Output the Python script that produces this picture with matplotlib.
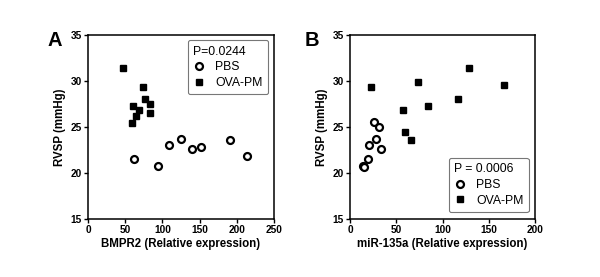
import matplotlib
matplotlib.use("Agg")
import matplotlib.pyplot as plt

plt.rcParams['font.family'] = ['Liberation Sans', 'DejaVu Sans']

# panel A: BMPR2 vs RVSP
a_pbs_x = [61.5, 93.4, 109.1, 125.2, 140.0, 152.2, 190.3, 214.1]
a_pbs_y = [21.5, 20.8, 23.1, 23.7, 22.6, 22.8, 23.6, 21.8]
a_ova_x = [46.7, 74.1, 76.7, 83.5, 83.5, 60.1, 68.7, 64.2, 58.8]
a_ova_y = [31.4, 29.4, 28.0, 27.5, 26.5, 27.3, 26.9, 26.2, 25.4]

# panel B: miR-135a vs RVSP
b_pbs_x = [25.5, 31.3, 28.1, 33.5, 20.5, 19.4, 13.7, 14.7]
b_pbs_y = [25.6, 25.0, 23.7, 22.6, 23.1, 21.5, 20.8, 20.6]
b_ova_x = [23.0, 73.4, 128.4, 166.2, 116.2, 84.2, 57.2, 59.0, 65.5]
b_ova_y = [29.4, 29.9, 31.4, 29.6, 28.0, 27.3, 26.9, 24.5, 23.6]

fig = plt.figure(figsize=(6, 2.77), dpi=100)
axA = fig.add_axes([0.1467, 0.2094, 0.31, 0.664])
axB = fig.add_axes([0.5833, 0.2094, 0.309, 0.664])


def panel(ax, px, py, ox, oy, xmax, xstep, xlabel, ptext, letter, lx, loc, anchor):
    ax.plot(px, py, 'o', ls='none', mfc='white', mec='black', mew=1.6,
            ms=5, label='PBS')
    ax.plot(ox, oy, 's', ls='none', color='black', ms=4.5, label='OVA-PM')
    ax.set_xlim(0, xmax)
    ax.set_ylim(15, 35)
    ax.set_xticks(range(0, xmax + 1, xstep))
    ax.set_yticks([15, 20, 25, 30, 35])
    for s in ax.spines.values():
        s.set_linewidth(1.1)
    ax.tick_params(direction='out', length=3, width=1, labelsize=7.3, pad=1.5)
    for t in ax.get_xticklabels() + ax.get_yticklabels():
        t.set_fontweight('bold')
    ax.set_xlabel(xlabel, fontsize=8.3, fontweight='bold', labelpad=2)
    ax.set_ylabel('RVSP (mmHg)', fontsize=8.3, fontweight='bold', labelpad=3)
    leg = ax.legend(title=ptext, loc=loc, bbox_to_anchor=anchor, fontsize=8.8,
                    title_fontsize=8.8, alignment='left', frameon=True,
                    fancybox=True, edgecolor='#555555', handlelength=1,
                    handletextpad=0.8, borderpad=0.45, labelspacing=0.3,
                    borderaxespad=0)
    leg.get_frame().set_linewidth(0.8)
    ax.text(lx, 0.973, letter, transform=ax.transAxes, fontsize=14.5,
            fontweight='bold', va='center', ha='left')


panel(axA, a_pbs_x, a_pbs_y, a_ova_x, a_ova_y, 250, 50,
      'BMPR2 (Relative expression)', 'P=0.0244', 'A', -0.22,
      'upper right', (0.968, 0.973))
panel(axB, b_pbs_x, b_pbs_y, b_ova_x, b_ova_y, 200, 50,
      'miR-135a (Relative expression)', 'P = 0.0006', 'B', -0.243,
      'lower right', (0.965, 0.038))

fig.savefig('out.png', dpi=100)
